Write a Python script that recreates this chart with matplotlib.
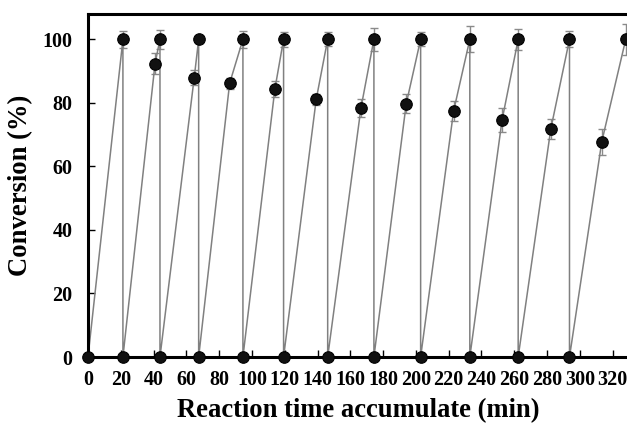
import matplotlib
matplotlib.use("Agg")
import matplotlib.pyplot as plt

# Reaction time accumulate (min) and conversion (%)
time_min = [0, 21.3, 21.3, 40.9, 43.9, 43.9, 64.8, 67.5, 67.5, 86.4, 94.5, 94.5,
            114.0, 119.3, 119.3, 139.2, 146.2, 146.2, 166.5, 174.4, 174.4,
            194.1, 202.9, 202.9, 223.0, 232.9, 232.9, 252.6, 262.4, 262.4,
            282.3, 293.7, 293.7, 313.4, 328.0]
conversion = [0, 100, 0, 92.4, 100, 0, 88.0, 100, 0, 86.2, 100, 0,
              84.4, 100, 0, 81.1, 100, 0, 78.4, 100, 0,
              79.7, 100, 0, 77.4, 100, 0, 74.7, 100, 0,
              71.8, 100, 0, 67.8, 100]
error = [0, 2.8, 0, 3.3, 3.0, 0, 2.5, 1.0, 0, 1.8, 2.8, 0,
         2.5, 2.3, 0, 1.8, 2.2, 0, 2.8, 3.6, 0,
         3.0, 2.2, 0, 3.2, 4.1, 0, 3.8, 3.3, 0,
         3.1, 2.5, 0, 4.1, 5.0]

x_ticks = list(range(0, 321, 20))
y_ticks = [0, 20, 40, 60, 80, 100]

plt.rcParams['font.family'] = ['Liberation Serif', 'DejaVu Serif']
plt.rcParams['font.weight'] = 'bold'

fig = plt.figure(figsize=(6.27, 4.23), dpi=100)
ax = fig.add_axes([88/627, 1-357/423, 541/627, (357-14)/423])

ax.errorbar(time_min, conversion, yerr=error, fmt='none', ecolor='#8a8a8a',
            elinewidth=1.0, capsize=2.8, capthick=1.0, zorder=2)
ax.plot(time_min, conversion, color='#808080', lw=1.1, zorder=3)
ax.plot(time_min, conversion, ls='none', marker='o', ms=8.3,
        mfc='#111111', mec='#000000', mew=0.8, zorder=5, clip_on=False)

ax.set_xlim(0, 330)
ax.set_ylim(0, 108)
ax.set_xticks(x_ticks)
ax.set_yticks(y_ticks)
ax.tick_params(axis='both', direction='in', length=5, width=1, labelsize=14.5)
ax.tick_params(axis='y', pad=11)
ax.tick_params(axis='x', pad=9)
for lab in ax.get_xticklabels() + ax.get_yticklabels():
    lab.set_fontweight('bold')

for s in ax.spines.values():
    s.set_linewidth(2.2)
    s.set_zorder(4)

ax.set_xlabel('Reaction time accumulate (min)', fontsize=19.2, fontweight='bold', labelpad=6)
ax.set_ylabel('Conversion (%)', fontsize=19.2, fontweight='bold', labelpad=7)

fig.savefig('out.png', dpi=100)
